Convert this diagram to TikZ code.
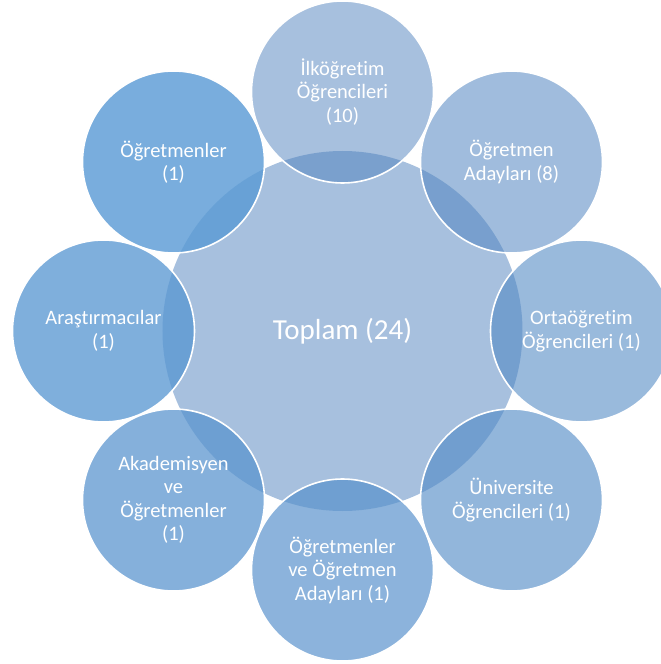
\documentclass[tikz,border=0pt]{standalone}
\usepackage{fontspec}
\setmainfont{Carlito}[Ligatures=NoCommon]
\definecolor{accdark}{HTML}{4F81BD}
\definecolor{acclight}{HTML}{5B9BD5}
\tikzset{
	total/.style={circle, minimum size=360pt, inner sep=0pt, fill=accdark, fill opacity=0.5, text opacity=1, text=white, font=\fontsize{29}{35}\selectfont},
	group/.style={circle, minimum size=182pt, inner sep=0pt, draw=white, line width=1.6pt, text=white, text opacity=1, align=center, font=\fontsize{20.5}{23.5}\selectfont}
}
\begin{document}
\begin{tikzpicture}[x=1pt, y=1pt]
	\clip (-342.5,-333) rectangle (318.5,331);
	\node[total] (toplam) at (0,0) {Toplam (24)};
	\node[group, fill=accdark, fill opacity=0.5] (ilk) at (90:239pt) {İlköğretim\\Öğrencileri\\(10)};
	\node[group, fill=accdark!86!acclight, fill opacity=0.546] (aday) at (45:239pt) {Öğretmen\\Adayları (8)};
	\node[group, fill=accdark!71!acclight, fill opacity=0.59] (orta) at (0:239pt) {Ortaöğretim\\Öğrencileri (1)};
	\node[group, fill=accdark!57!acclight, fill opacity=0.637] (univ) at (-45:239pt) {Üniversite\\Öğrencileri (1)};
	\node[group, fill=accdark!43!acclight, fill opacity=0.683] (ogrvaday) at (-90:239pt) {Öğretmenler\\ve Öğretmen\\Adayları (1)};
	\node[group, fill=accdark!29!acclight, fill opacity=0.73] (akad) at (-135:239pt) {Akademisyen\\ve\\Öğretmenler\\(1)};
	\node[group, fill=accdark!14!acclight, fill opacity=0.774] (arast) at (180:239pt) {Araştırmacılar\\(1)};
	\node[group, fill=acclight, fill opacity=0.82] (ogr) at (135:239pt) {Öğretmenler\\(1)};
\end{tikzpicture}
\end{document}
